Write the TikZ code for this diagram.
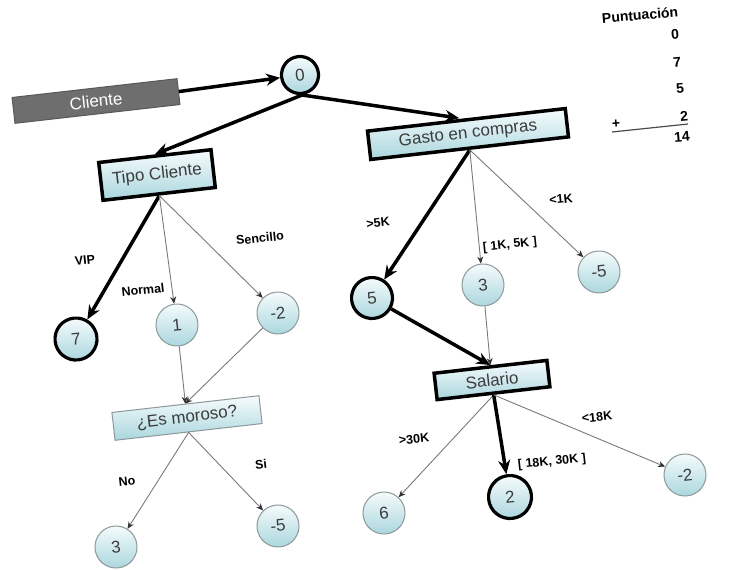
\documentclass[tikz,border=0pt]{standalone}
\usepackage{fontspec}
\setmainfont{Liberation Sans}
\usetikzlibrary{arrows.meta}
\definecolor{ctop}{HTML}{F7FCFD}
\definecolor{cbot}{HTML}{A9D6DD}
\definecolor{txtg}{HTML}{3C3C3C}
\definecolor{cgray}{HTML}{8C9899}
\definecolor{egray}{HTML}{7A7A7A}
\definecolor{clgray}{HTML}{6E6E6E}
\begin{document}
\begin{tikzpicture}[x=1pt,y=-1pt,
  nfill/.style={top color=ctop,bottom color=cbot},
  nodetext/.style={font=\fontsize{17}{20}\selectfont,text=txtg},
  thickbox/.style={draw=black,line width=3.5pt,nfill,nodetext,rotate=6.5,inner sep=0pt},
  thinbox/.style={draw=cgray,line width=1pt,nfill,nodetext,rotate=6.5,inner sep=0pt},
  thickcirc/.style={circle,draw=black,line width=3.2pt,nfill,nodetext,inner sep=0pt,minimum size=41pt,rotate=6},
  thincirc/.style={circle,draw=cgray,line width=1pt,nfill,nodetext,inner sep=0pt,minimum size=42pt,rotate=6},
  thickedge/.style={line width=3.5pt,-{Stealth[length=14pt,width=12pt]}},
  thinedge/.style={line width=0.9pt,draw=egray,-{Stealth[length=7pt,width=6pt,color=black!80]}},
  lbl/.style={font=\bfseries\fontsize{12.5}{14}\selectfont,rotate=6},
  score/.style={font=\bfseries\fontsize{14}{15}\selectfont,rotate=5,inner sep=0.5pt}
]
\fill[white] (0,0) rectangle (738,570);
\useasboundingbox (0,0) rectangle (738,570);

% nodes
\node[draw=black!65,line width=1pt,fill=clgray,text=white,font=\fontsize{17}{20}\selectfont,
      rotate=6.5,inner sep=0pt,minimum width=166pt,minimum height=26pt] (cliente) at (96,101) {Cliente};
\node[thickcirc,minimum size=37pt] (n0) at (300,75) {0};
\node[thickbox,minimum width=113pt,minimum height=38pt] (tipo) at (157,175) {Tipo Cliente};
\node[thickbox,minimum width=199pt,minimum height=28.5pt] (gasto) at (468,134) {Gasto en compras};
\node[thickcirc,minimum size=42pt] (n7) at (76,339) {7};
\node[thincirc] (n1) at (177,325) {1};
\node[thincirc] (nm2a) at (278,313) {-2};
\node[thinbox,minimum width=148pt,minimum height=28pt] (moroso) at (187,418) {¿Es moroso?};
\node[thincirc] (n3a) at (116,547) {3};
\node[thincirc] (nm5a) at (278,526) {-5};
\node[thickcirc] (n5) at (372,298) {5};
\node[thincirc] (n3b) at (483,285) {3};
\node[thincirc] (nm5b) at (599,272) {-5};
\node[thickbox,minimum width=113.5pt,minimum height=26.5pt] (salario) at (492,380) {Salario};
\node[thincirc] (n6) at (384,513) {6};
\node[thickcirc,minimum size=43pt] (n2) at (510,497) {2};
\node[thincirc] (nm2b) at (685,475) {-2};

% edges
\draw[thickedge] (cliente.east) -- (n0);
\draw[thickedge] (n0.south) -- (tipo.north);
\draw[thickedge] (n0.south) -- ([xshift=-7pt]gasto.north);
\draw[thickedge] (tipo.south) -- (n7);
\draw[thinedge] (tipo.south) -- (n1);
\draw[thinedge] (tipo.south) -- (nm2a);
\draw[thinedge] (n1) -- (moroso.north);
\draw[thinedge] (nm2a) -- (moroso.north);
\draw[thinedge] (moroso.south) -- (n3a);
\draw[thinedge] (moroso.south) -- (nm5a);
\draw[thickedge] (gasto.south) -- (n5);
\draw[thinedge] (gasto.south) -- (n3b);
\draw[thinedge] (gasto.south) -- (nm5b);
\draw[thickedge] (n5) -- (salario.north);
\draw[thinedge] (n3b) -- (salario.north);
\draw[thinedge] (salario.south) -- (n6);
\draw[thickedge] (salario.south) -- (n2);
\draw[thinedge] (salario.south) -- (nm2b);

% labels
\node[lbl] (lvip) at (85,260) {VIP};
\node[lbl] (lnormal) at (143,290) {Normal};
\node[lbl] (lsenc) at (260,238) {Sencillo};
\node[lbl] (l5k) at (378,223) {>5K};
\node[lbl] (l15k) at (510,245) {[ 1K, 5K ]};
\node[lbl] (l1k) at (561,199) {<1K};
\node[lbl] (l30k) at (414,439) {>30K};
\node[lbl] (l1830) at (552,462) {[ 18K, 30K ]};
\node[lbl] (l18k) at (597,417) {<18K};
\node[lbl] (lno) at (127,481) {No};
\node[lbl] (lsi) at (261,464) {Si};

% score
\node[score] (punt) at (640,15) {Puntuación};
\node[score] (s0) at (675,34) {0};
\node[score] (s7) at (677,62) {7};
\node[score] (s5) at (680,88) {5};
\node[score] (s2) at (684,116) {2};
\node[score] (splus) at (616,124) {+};
\node[score] (s14) at (682,137) {14};
\coordinate (sumL) at (612,132);
\coordinate (sumR) at (688,124);
\draw[line width=1.2pt,black!70] (sumL) -- (sumR);
\end{tikzpicture}
\end{document}
